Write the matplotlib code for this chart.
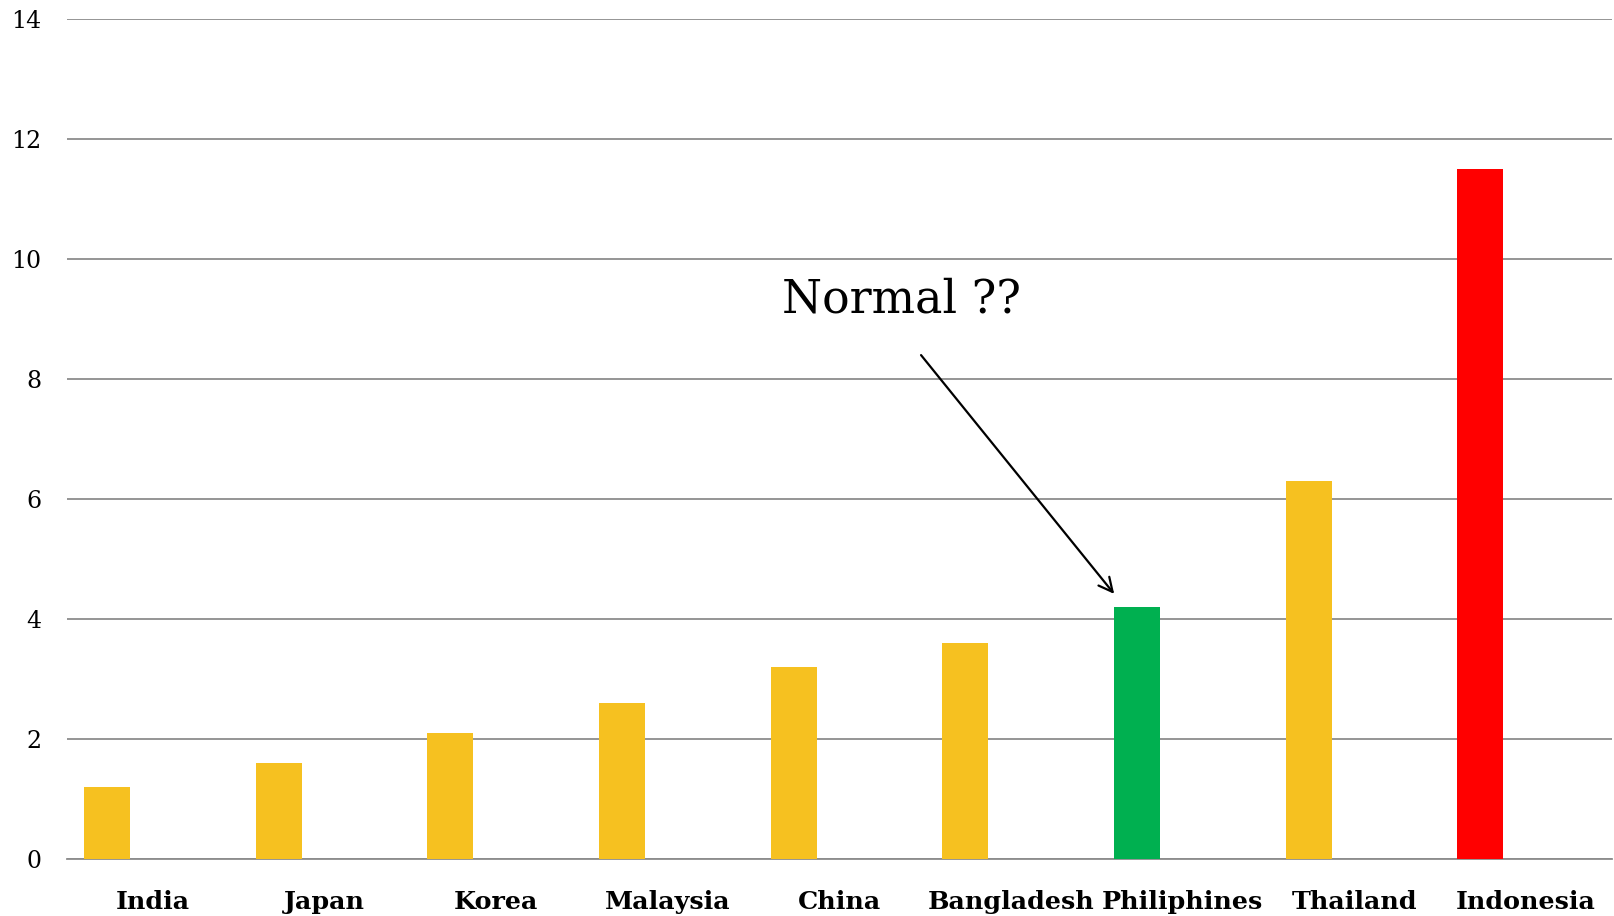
import matplotlib
matplotlib.use("Agg")
import matplotlib.pyplot as plt
import numpy as np

countries = ["India", "Japan", "Korea", "Malaysia", "China",
             "Bangladesh", "Philiphines", "Thailand", "Indonesia"]
values = [1.2, 1.6, 2.1, 2.6, 3.2, 3.6, 4.2, 6.3, 11.5]
bar_colors = ["#F6C120"] * 6 + ["#00B050", "#F6C120", "#FF0000"]
y_ticks = [0, 2, 4, 6, 8, 10, 12, 14]

plt.rcParams["font.family"] = ["DejaVu Serif"]

fig = plt.figure(figsize=(16.14, 9.16), dpi=100)
ax = fig.add_axes([67 / 1614, 57.5 / 916, 1545 / 1614, 840 / 916])

x = np.arange(len(countries))
bar_w = 0.268
ax.bar(x - 0.401, values, width=bar_w, align="edge", color=bar_colors, zorder=3)

ax.set_xlim(-0.5, len(countries) - 0.5)
ax.set_ylim(0, 14)
ax.set_yticks(y_ticks)
ax.set_yticklabels([str(t) for t in y_ticks], fontsize=17)
ax.set_xticks(x)
ax.set_xticklabels(countries, fontsize=18.3, fontweight="bold")
ax.tick_params(axis="y", length=0, pad=18.5)
ax.tick_params(axis="x", length=0, pad=23)

ax.grid(axis="y", color="#8c8c8c", linewidth=1.3, zorder=0)
for side in ["top", "right", "left"]:
    ax.spines[side].set_visible(False)
ax.spines["bottom"].set_color("#8c8c8c")
ax.spines["bottom"].set_linewidth(1.3)

ax.annotate("", xy=(5.6, 4.41), xytext=(4.475, 8.39),
            arrowprops=dict(arrowstyle="->,head_length=1.0,head_width=0.5",
                            color="black", lw=1.6, shrinkA=0, shrinkB=0))
ax.text(4.36, 9.31, "Normal ??", fontsize=33, ha="center", va="center")

fig.savefig("out.png", dpi=100)
